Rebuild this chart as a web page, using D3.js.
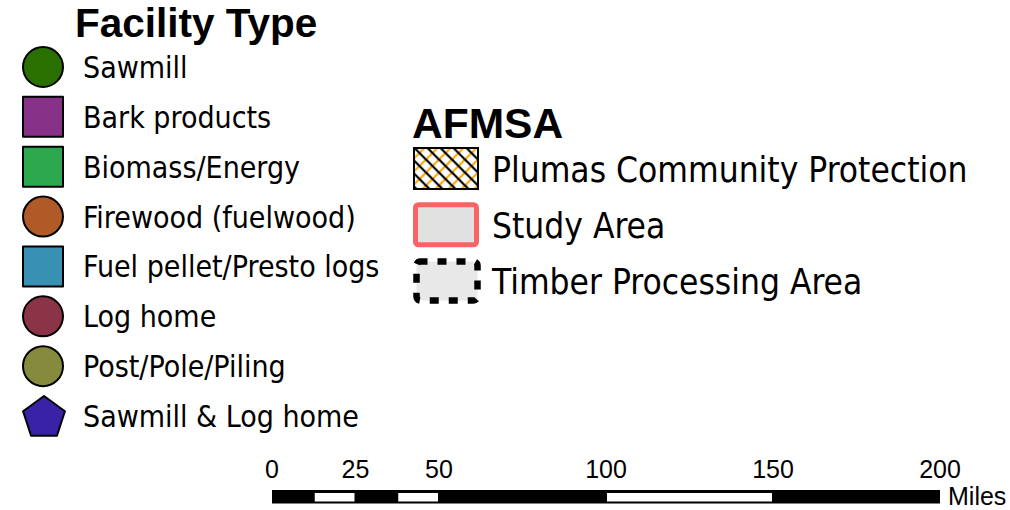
<!DOCTYPE html>
<html>
<head>
<meta charset="utf-8">
<script src="https://cdn.jsdelivr.net/npm/d3@7"></script>
<style>
  html, body { margin: 0; padding: 0; background: #ffffff; }
  svg { display: block; }
  .lbl { font-family: "DejaVu Sans Condensed", "DejaVu Sans", sans-serif; font-stretch: condensed; fill: #000; }
  .ttl { font-family: "Liberation Sans", Arial, sans-serif; font-weight: bold; fill: #000; }
  .sb  { font-family: "Liberation Sans Narrow", "Liberation Sans", Arial, sans-serif; font-stretch: condensed; fill: #000; }
</style>
</head>
<body>
<script>
// ---- data ----
const facilityTypes = ["Sawmill", "Bark products", "Biomass/Energy", "Firewood (fuelwood)",
  "Fuel pellet/Presto logs", "Log home", "Post/Pole/Piling", "Sawmill & Log home"];
const facilityColors = ["#2a7000", "#883188", "#2ea84e", "#b05a28", "#3890b2", "#8b3447", "#868a3c", "#3a22a6"];
const facilityShapes = ["circle", "square", "square", "circle", "square", "circle", "circle", "pentagon"];
const afmsaLabels = ["Plumas Community Protection", "Study Area", "Timber Processing Area"];
const afmsaStyles = ["hatch", "study", "timber"];
const scaleTicks = [0, 25, 50, 100, 150, 200];
const scaleWhiteSegments = [[12.5, 25], [37.5, 50], [100, 150]];
const scaleUnit = "Miles";

const W = 1010, H = 510;
const svg = d3.select("body").append("svg").attr("width", W).attr("height", H);

// hatch pattern
const defs = svg.append("defs");
const pat = defs.append("pattern").attr("id", "hatch").attr("patternUnits", "userSpaceOnUse")
  .attr("width", 13).attr("height", 13).attr("x", 413).attr("y", 147);
pat.append("rect").attr("width", 13).attr("height", 13).attr("fill", "#fff");
["M-3,3 L3,-3", "M-3,16 L16,-3", "M10,16 L16,10"].forEach(d =>
  pat.append("path").attr("d", d).attr("stroke", "#ffa500").attr("stroke-width", 2));
["M-3,-3 L16,16", "M-3,10 L3,16", "M10,-3 L16,3"].forEach(d =>
  pat.append("path").attr("d", d).attr("stroke", "#000").attr("stroke-width", 2.2));

// ---- Facility Type legend ----
svg.append("text").attr("class", "ttl").attr("x", 75).attr("y", 37)
  .attr("font-size", 40.5).text("Facility Type");

const rowY = d3.scalePoint().domain(facilityTypes).range([67, 416]);
const symbolSize = { circle: Math.PI * 20 * 20, square: 40 * 40, pentagon: 0 };
const pentagon = (r) => {
  const pts = d3.range(5).map(i => {
    const a = -Math.PI / 2 + i * 2 * Math.PI / 5;
    return [r * Math.cos(a), r * Math.sin(a)];
  });
  return "M" + pts.map(p => p.join(",")).join("L") + "Z";
};
const rows = svg.append("g").selectAll("g").data(facilityTypes).join("g")
  .attr("transform", d => `translate(43,${rowY(d)})`);
rows.append("path")
  .attr("d", (d, i) => {
    const s = facilityShapes[i];
    if (s === "pentagon") return pentagon(22);
    return d3.symbol().type(s === "circle" ? d3.symbolCircle : d3.symbolSquare).size(symbolSize[s])();
  })
  .attr("transform", (d, i) => facilityShapes[i] === "pentagon" ? "translate(1,2)" : null)
  .attr("fill", (d, i) => facilityColors[i])
  .attr("stroke", "#000").attr("stroke-width", 2).attr("stroke-linejoin", "round");
rows.append("text").attr("class", "lbl").attr("x", 40).attr("y", 11)
  .attr("font-size", 30).text(d => d);

// ---- AFMSA legend ----
svg.append("text").attr("class", "ttl").attr("x", 412).attr("y", 138)
  .attr("font-size", 42.5).text("AFMSA");
const aY = d3.scalePoint().domain(afmsaLabels).range([168.5, 281]);
const ag = svg.append("g").selectAll("g").data(afmsaLabels).join("g")
  .attr("transform", d => `translate(0,${aY(d)})`);
ag.each(function (d, i) {
  const g = d3.select(this);
  const st = afmsaStyles[i];
  if (st === "hatch") {
    g.append("rect").attr("x", 414).attr("y", -20.5).attr("width", 64).attr("height", 41)
      .attr("fill", "url(#hatch)").attr("stroke", "#000").attr("stroke-width", 2);
  } else if (st === "study") {
    g.append("rect").attr("x", 415.5).attr("y", -20).attr("width", 61).attr("height", 40)
      .attr("rx", 3).attr("fill", "#e1e1e1").attr("stroke", "#f86464").attr("stroke-width", 5);
  } else {
    g.append("rect").attr("x", 416.5).attr("y", -19.5).attr("width", 61).attr("height", 39)
      .attr("rx", 4).attr("fill", "#e8e8e8").attr("stroke", "#000").attr("stroke-width", 6.5)
      .attr("stroke-dasharray", "9 10").attr("stroke-dashoffset", 2);
  }
  g.append("text").attr("class", "lbl").attr("x", 492).attr("y", 13)
    .attr("font-size", 35).text(d);
});

// ---- Scale bar ----
const sx = d3.scaleLinear().domain([0, 200]).range([272, 940]);
const sb = svg.append("g");
sb.append("rect").attr("x", sx(0)).attr("y", 490).attr("width", sx(200) - sx(0)).attr("height", 13.5).attr("fill", "#000");
sb.selectAll("rect.w").data(scaleWhiteSegments).join("rect").attr("class", "w")
  .attr("x", d => sx(d[0]) + 1).attr("y", 493).attr("width", d => sx(d[1]) - sx(d[0]) - 2)
  .attr("height", 8.5).attr("fill", "#fff");
sb.selectAll("text.t").data(scaleTicks).join("text").attr("class", "sb t")
  .attr("x", d => sx(d)).attr("y", 478).attr("text-anchor", "middle")
  .attr("font-size", 25).text(d => d);
sb.append("text").attr("class", "sb").attr("x", sx(200) + 8).attr("y", 505)
  .attr("font-size", 25).text(scaleUnit);
</script>
</body>
</html>
